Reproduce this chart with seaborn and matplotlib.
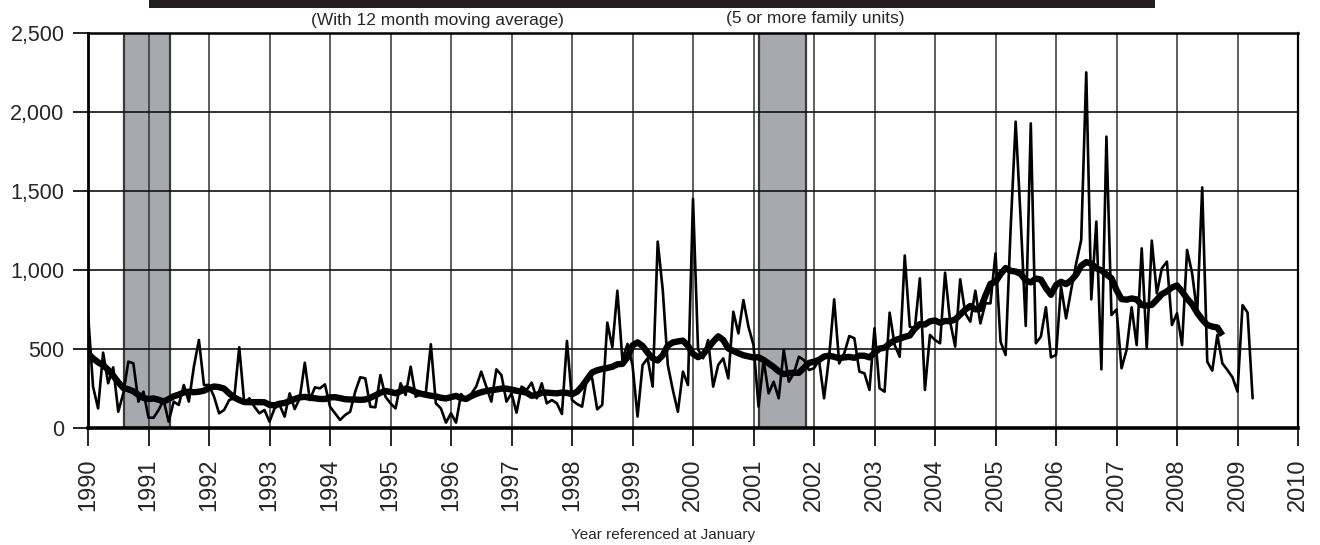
import numpy as np
import pandas as pd
import matplotlib
matplotlib.use("Agg")
import matplotlib.pyplot as plt
from matplotlib.patches import Rectangle
from matplotlib.ticker import FuncFormatter
import seaborn as sns

# Monthly multifamily permits (5 or more units), starting July 1989
start_year = 1989
start_month = 7
units = [
    # Jul-Dec 1989
    560, 540, 690, 580, 700, 578,
    # 1990
    726, 262, 124, 477, 283, 384, 103, 219, 420, 409, 167, 230,
    # 1991
    65, 65, 114, 177, 40, 167, 146, 272, 167, 388, 557, 272,
    # 1992
    272, 198, 93, 114, 177, 188, 511, 156, 188, 135, 93, 114,
    # 1993
    40, 124, 146, 72, 219, 120, 188, 413, 177, 257, 251, 276,
    # 1994
    135, 93, 51, 82, 103, 230, 321, 314, 135, 131, 335, 198,
    # 1995
    156, 124, 283, 209, 388, 198, 215, 219, 530, 156, 124, 34,
    # 1996
    93, 34, 215, 177, 215, 262, 357, 262, 167, 371, 335, 167,
    # 1997
    219, 97, 262, 241, 287, 188, 283, 156, 177, 156, 89, 551,
    # 1998
    177, 152, 135, 325, 314, 118, 146, 667, 511, 869, 430, 532,
    # 1999
    399, 72, 399, 441, 262, 1180, 874, 399, 241, 103, 357, 272,
    # 2000
    1450, 498, 441, 557, 262, 399, 441, 314, 736, 599, 810, 641,
    # 2001
    525, 135, 430, 219, 293, 188, 494, 293, 346, 451, 430, 367,
    # 2002
    378, 430, 188, 451, 814, 409, 473, 582, 568, 357, 346, 241,
    # 2003
    631, 251, 230, 730, 525, 451, 1092, 641, 631, 947, 241, 589,
    # 2004
    557, 536, 983, 673, 515, 941, 726, 673, 869, 662, 789, 789,
    # 2005
    1105, 546, 462, 1260, 1939, 1316, 646, 1928, 536, 578, 764, 447,
    # 2006
    462, 895, 694, 873, 1042, 1190, 2251, 814, 1306, 371, 1844, 715,
    # 2007
    750, 378, 494, 764, 525, 1137, 504, 1186, 852, 1011, 1053, 652,
    # 2008
    726, 525, 1127, 979, 726, 1523, 420, 363, 589, 409, 367, 321,
    # Jan-Apr 2009
    230, 778, 730, 188,
]

# Recession periods (decimal years)
recession_starts = [1990.60, 2001.09]
recession_ends = [1991.36, 2001.87]

years = list(range(1990, 2011))
y_ticks = [0, 500, 1000, 1500, 2000, 2500]

subtitle_left = "(With 12 month moving average)"
subtitle_right = "(5 or more family units)"
x_title = "Year referenced at January"

# ---- data frame ----
t = start_year + (start_month - 1) / 12 + np.arange(len(units)) / 12
df = pd.DataFrame({"year": t, "units": units})
# centered 2x12 moving average
df["ma"] = df["units"].rolling(12).mean().rolling(2).mean().shift(-6)

sns.set_style("white")
plt.rcParams["font.family"] = ["Liberation Sans", "DejaVu Sans"]

W, H = 1320, 545
fig = plt.figure(figsize=(W / 100, H / 100), dpi=100)
ax = fig.add_axes([88 / W, 1 - 428 / H, (1298 - 88) / W, (428 - 33) / H])

# recession shading
for s, e in zip(recession_starts, recession_ends):
    ax.axvspan(s, e, facecolor="#a7a9ac", edgecolor="#3a3a3a", lw=1.6, zorder=0.3)

# grid
for yr in years:
    ax.axvline(yr, color="#333333", lw=1.1, zorder=1)
for v in y_ticks:
    ax.axhline(v, color="#111111", lw=1.2, zorder=1)

sns.lineplot(data=df, x="year", y="units", color="black", lw=1.9,
             estimator=None, ax=ax, zorder=3)
sns.lineplot(data=df.dropna(), x="year", y="ma", color="black", lw=4.6,
             estimator=None, ax=ax, zorder=4, solid_capstyle="butt")

ax.set_xlim(1990, 2010)
ax.set_ylim(0, 2500)
ax.set_xticks(years)
ax.set_xticklabels([str(y) for y in years], rotation=90)
ax.set_yticks(y_ticks)
ax.yaxis.set_major_formatter(FuncFormatter(lambda v, p: f"{int(v):,}"))
ax.set_xlabel("")
ax.set_ylabel("")

ax.tick_params(axis="x", length=13, width=1.2, pad=9, labelsize=17, color="black",
               bottom=True, direction="out")
ax.tick_params(axis="y", length=11, width=1.2, pad=6, labelsize=15.5, color="black",
               left=True, direction="out")

for side, lw in [("top", 1.8), ("bottom", 2.6), ("left", 2.0), ("right", 1.6)]:
    ax.spines[side].set_visible(True)
    ax.spines[side].set_color("black")
    ax.spines[side].set_linewidth(lw)
    ax.spines[side].set_zorder(5)

# header band and subtitles
fig.patches.append(Rectangle((149 / W, 1 - 8 / H), (1155 - 149) / W, 8 / H,
                             transform=fig.transFigure, facecolor="#231f20",
                             edgecolor="none"))
fig.text(437 / W, 1 - 20 / H, subtitle_left, ha="center", va="center", fontsize=12.5)
fig.text(815 / W, 1 - 18 / H, subtitle_right, ha="center", va="center", fontsize=12.5)
fig.text(663 / W, 1 - 535 / H, x_title, ha="center", va="center", fontsize=11)

fig.savefig("out.png", dpi=100, facecolor="white")
